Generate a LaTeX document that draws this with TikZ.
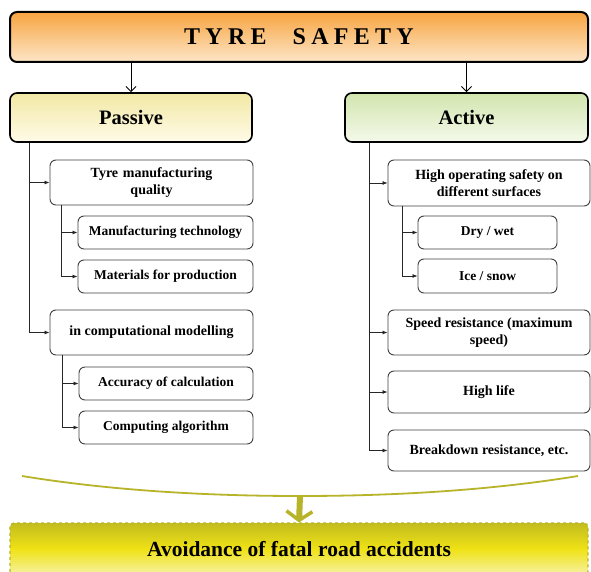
\documentclass[tikz,border=0pt]{standalone}
\usepackage{fontspec}
\setmainfont{Liberation Serif}
\newfontfamily\widefont[LetterSpace=22]{Liberation Serif}
\usetikzlibrary{arrows.meta}
\definecolor{orangetop}{HTML}{F7A440}
\definecolor{orangebot}{HTML}{FDE6C8}
\definecolor{passtop}{HTML}{F2E8A4}
\definecolor{passbot}{HTML}{FFFBE8}
\definecolor{acttop}{HTML}{D2E5AE}
\definecolor{actbot}{HTML}{F4F9EA}
\definecolor{olivec}{HTML}{B8B42A}
\definecolor{avtop}{HTML}{C3BD1F}
\definecolor{avmid}{HTML}{EFE216}
\definecolor{avbot}{HTML}{F7F2A6}
\tikzset{
  headbox/.style={draw=black,line width=1.6pt,rounded corners=7pt,
    font=\bfseries\fontsize{20.5}{23}\selectfont},
  itembox/.style={draw=black!75,line width=0.9pt,rounded corners=6pt,align=center,
    font=\bfseries\fontsize{14}{17}\selectfont},
  subbox/.style={draw=black!75,line width=0.9pt,rounded corners=6pt,align=center,
    font=\bfseries\fontsize{13.5}{15}\selectfont},
  branch/.style={draw=black!85,line width=0.8pt,-{Latex[length=5pt,width=4pt]}},
}

\begin{document}
\begin{tikzpicture}[x=1pt,y=-1pt]
      \useasboundingbox[fill=white] (0,0) rectangle (591,572);
      % top level
      \node [headbox,line width=2pt,top color=orangetop,bottom color=orangebot,
        minimum width=578,minimum height=50,font=\bfseries\fontsize{24}{26}\selectfont]
        (tyre) at (299,37) {\widefont\bfseries TYRE\hspace{26pt}SAFETY};
      \node [headbox,top color=passtop,bottom color=passbot,minimum width=242,minimum height=49]
        (pas) at (131,117.5) {Passive};
      \node [headbox,top color=acttop,bottom color=actbot,minimum width=243,minimum height=49]
        (act) at (466.5,117.5) {Active};
      \draw [line width=1pt,-{Straight Barb[length=5pt,width=10pt]}] (tyre.south -| pas.north) -- (pas.north);
      \draw [line width=1pt,-{Straight Barb[length=5pt,width=10pt]}] (tyre.south -| act.north) -- (act.north);
      % passive side
      \node [itembox,minimum width=203,minimum height=45,text width=190] (tq) at (151.5,182.5) {Tyre manufacturing\\quality};
      \node [subbox,minimum width=175,minimum height=33] (mt) at (165.5,232.5) {Manufacturing technology};
      \node [subbox,minimum width=175,minimum height=33] (mp) at (165.5,276.5) {Materials for production};
      \node [itembox,minimum width=203,minimum height=45] (cm) at (151.5,332.5) {in computational modelling};
      \node [subbox,minimum width=174,minimum height=33] (ac) at (166,383.5) {Accuracy of calculation};
      \node [subbox,minimum width=174,minimum height=33] (ca) at (166,427.5) {Computing algorithm};
      \draw [branch] ([xshift=20pt]pas.south west) |- (tq.west);
      \draw [branch] ([xshift=20pt]pas.south west) |- (cm.west);
      \draw [branch] ([xshift=12pt]tq.south west) |- (mt.west);
      \draw [branch] ([xshift=12pt]tq.south west) |- (mp.west);
      \draw [branch] ([xshift=13pt]cm.south west) |- (ac.west);
      \draw [branch] ([xshift=13pt]cm.south west) |- (ca.west);
      % active side
      \node [itembox,minimum width=202,minimum height=46] (hs) at (489,183) {High operating safety on\\different surfaces};
      \node [subbox,minimum width=139,minimum height=33] (dw) at (487.5,232.5) {Dry / wet};
      \node [subbox,minimum width=139,minimum height=34] (is) at (487.5,276) {Ice / snow};
      \node [itembox,minimum width=202,minimum height=45] (sr) at (489,332.5) {Speed resistance (maximum\\speed)};
      \node [itembox,minimum width=202,minimum height=42] (hl) at (489,392) {High life};
      \node [itembox,minimum width=202,minimum height=41] (br) at (489,450.5) {Breakdown resistance, etc.};
      \draw [branch] ([xshift=25pt]act.south west) |- (hs.west);
      \draw [branch] ([xshift=25pt]act.south west) |- (sr.west);
      \draw [branch] ([xshift=25pt]act.south west) |- (hl.west);
      \draw [branch] ([xshift=25pt]act.south west) |- (br.west);
      \draw [branch] ([xshift=15pt]hs.south west) |- (dw.west);
      \draw [branch] ([xshift=15pt]hs.south west) |- (is.west);
      % result
      \node [draw=olivec,line width=1.2pt,dashed,rounded corners=4pt,minimum width=578,minimum height=52,
        top color=avtop,bottom color=avbot,middle color=avmid,
        font=\bfseries\fontsize{21.5}{23}\selectfont] (av) at (299,549) {Avoidance of fatal road accidents};
      \coordinate (cl) at (22,476);
      \coordinate (cr) at (578,476);
      \coordinate (cm0) at (300,496);
      \draw [olivec,line width=1.8pt] (cl) .. controls (120,492) and (220,496) .. (cm0)
        .. controls (380,496) and (480,492) .. (cr);
      \draw [olivec,line width=6pt,-{Straight Barb[length=9pt,width=26pt,line width=3.5pt]}] (cm0) -- (av.north);
    \end{tikzpicture}
\end{document}
